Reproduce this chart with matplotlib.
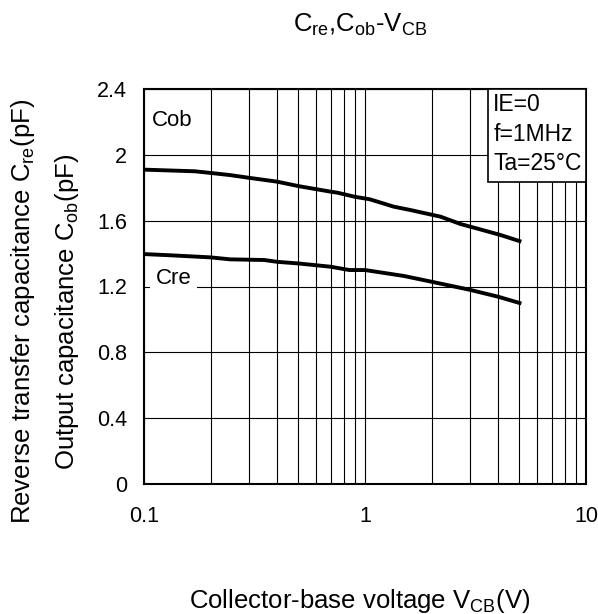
import matplotlib
matplotlib.use("Agg")
import matplotlib.pyplot as plt
from matplotlib.patches import Rectangle

plt.rcParams['font.family'] = ['Liberation Sans', 'DejaVu Sans']
plt.rcParams['mathtext.fontset'] = 'custom'
plt.rcParams['mathtext.rm'] = 'Liberation Sans'

# data
vcb_cob = [0.1, 0.17, 0.2, 0.245, 0.3, 0.4, 0.5, 0.7, 0.75, 0.9, 1.05, 1.35, 1.6, 2.2, 2.7, 3.2, 4.1, 5.0]
cob = [1.91, 1.90, 1.89, 1.877, 1.86, 1.837, 1.81, 1.776, 1.77, 1.745, 1.73, 1.685, 1.665, 1.624, 1.58, 1.553, 1.513, 1.476]
vcb_cre = [0.1, 0.13, 0.2, 0.245, 0.35, 0.4, 0.5, 0.7, 0.85, 1.0, 1.5, 2.0, 3.0, 4.0, 5.0]
cre = [1.397, 1.39, 1.377, 1.365, 1.361, 1.35, 1.34, 1.32, 1.30, 1.30, 1.264, 1.229, 1.179, 1.138, 1.10]

yticks = [0, 0.4, 0.8, 1.2, 1.6, 2.0, 2.4]
ylabels = ['0', '0.4', '0.8', '1.2', '1.6', '2', '2.4']
xticks = [0.1, 1, 10]
xlabels = ['0.1', '1', '10']
conditions = ['IE=0', 'f=1MHz', 'Ta=25°C']

fig = plt.figure(figsize=(5.98, 6.14), dpi=100)
ax = fig.add_axes([144/598, 1-484/614, 442/598, 395/614])

ax.plot(vcb_cob, cob, color='black', lw=2.8, zorder=3)
ax.plot(vcb_cre, cre, color='black', lw=2.8, zorder=3)

ax.set_xscale('log')
ax.set_xlim(0.1, 10)
ax.set_ylim(0, 2.4)
ax.set_xticks(xticks)
ax.set_xticklabels(xlabels)
ax.set_yticks(yticks)
ax.set_yticklabels(ylabels)
ax.tick_params(which='both', length=0, labelsize=15.5)
ax.tick_params(axis='x', pad=16)
ax.tick_params(axis='y', pad=12)
ax.grid(True, which='both', axis='x', color='black', lw=0.8)
ax.grid(True, which='major', axis='y', color='black', lw=0.8)
for s in ax.spines.values():
    s.set_linewidth(1.5)

# curve labels
ax.text(0.108, 2.21, 'Cob', fontsize=16, va='center', ha='left')
ax.text(0.113, 1.25, 'Cre', fontsize=16, va='center', ha='left', zorder=2,
        bbox=dict(facecolor='white', edgecolor='none', pad=4))

# conditions box
ax.add_patch(Rectangle((0.778, 0.765), 0.222, 0.235, transform=ax.transAxes,
                       facecolor='white', edgecolor='black', lw=1.2, zorder=4))
for i, c in enumerate(conditions):
    ax.text(0.79, 0.96 - i*0.074, c, transform=ax.transAxes, fontsize=16.5,
            va='center', ha='left', zorder=5)

fig.text(360/598, 1-25/614, r'$\mathregular{C_{re}{,}C_{ob}}$-$\mathregular{V_{CB}}$',
         fontsize=18.5, ha='center', va='center')
fig.text(360/598, 1-601/614, r'Collector-base voltage $\mathregular{V_{CB}}$(V)',
         fontsize=18.5, ha='center', va='center')
fig.text(23/598, 1-311/614, r'Reverse transfer capacitance $\mathregular{C_{re}}$(pF)',
         fontsize=18.5, rotation=90, ha='center', va='center')
fig.text(67/598, 1-312/614, r'Output capacitance $\mathregular{C_{ob}}$(pF)',
         fontsize=18.5, rotation=90, ha='center', va='center')

fig.savefig('out.png', dpi=100)
